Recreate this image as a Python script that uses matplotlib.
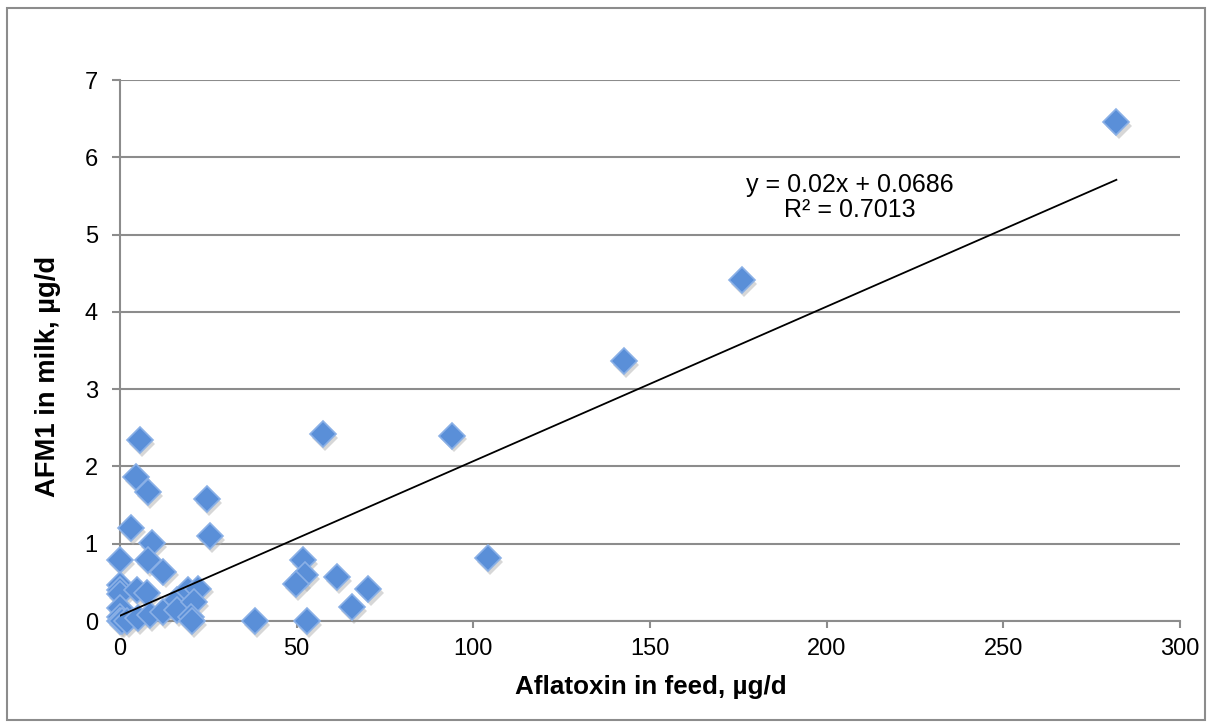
import matplotlib.pyplot as plt
import numpy as np
from matplotlib.patches import Rectangle

plt.rcParams['font.family'] = ['Liberation Sans', 'DejaVu Sans']

# data
feed = [0, 0, 0, 0, 0, 0, 0, 0.5, 1.9,
        3.1, 4.5, 5.7, 8.0, 9.0, 8.0, 12.3, 4.7, 7.5, 5.1, 8.5, 12.2,
        16.0, 16.0, 19.3, 22.2, 20.8, 20.0, 20.3, 24.5, 25.5, 38.2,
        51.7, 52.4, 49.8, 61.3, 70.3, 65.6, 53.0, 57.5,
        94.0, 104.2, 142.5, 176.0, 282.0]
milk = [0.79, 0.47, 0.40, 0.35, 0.17, 0.05, 0.0, 0.0, 0.0,
        1.20, 1.86, 2.34, 1.67, 1.01, 0.79, 0.64, 0.40, 0.36, 0.04, 0.08, 0.12,
        0.27, 0.14, 0.40, 0.42, 0.25, 0.05, 0.0, 1.58, 1.10, 0.0,
        0.79, 0.60, 0.48, 0.57, 0.41, 0.18, 0.0, 2.42,
        2.40, 0.81, 3.36, 4.41, 6.46]
slope, intercept, r2 = 0.02, 0.0686, 0.7013

x = np.array(feed)
y = np.array(milk)

fig = plt.figure(figsize=(12.1, 7.26), dpi=100)
ax = fig.add_axes([0.0992, 0.1446, 0.8760, 0.7452])

# outer frame
fig.patches.append(Rectangle((0.006, 0.008), 0.99, 0.981, transform=fig.transFigure,
                             fill=False, edgecolor='#8c8c8c', linewidth=1.5))

ax.set_xlim(0, 300)
ax.set_ylim(0, 7)
ax.set_xticks(range(0, 301, 50))
ax.set_yticks(range(0, 8))

ax.grid(axis='y', color='#8c8c8c', linewidth=1.5)
ax.set_axisbelow(True)
for s in ['top', 'right']:
    ax.spines[s].set_visible(False)
for s in ['left', 'bottom']:
    ax.spines[s].set_color('#8c8c8c')
    ax.spines[s].set_linewidth(1.5)
ax.tick_params(axis='both', colors='#8c8c8c', width=1.5, labelsize=17,
               labelcolor='black')
ax.tick_params(axis='x', length=5, pad=7)
ax.tick_params(axis='y', length=6, pad=10)

# shadow then markers
ax.plot(x + 0.6, y - 0.05, 'D', markersize=13, color='#b0b0b0', alpha=0.5,
        markeredgewidth=0, clip_on=False, zorder=2)
ax.plot(x, y, 'D', markersize=13, markerfacecolor='#5a8fd8',
        markeredgecolor='#8ab0e6', markeredgewidth=1.2, clip_on=False, zorder=3)

xt = np.array([x.min(), x.max()])
ax.plot(xt, slope * xt + intercept, color='black', linewidth=1.3, zorder=4)

ax.text(206.5, 5.48, 'y = %.2fx + %.4f\nR² = %.4f' % (slope, intercept, r2),
        ha='center', va='center', fontsize=18, linespacing=1.08)

ax.set_xlabel('Aflatoxin in feed, µg/d', fontsize=18.7, fontweight='bold')
ax.set_ylabel('AFM1 in milk, µg/d', fontsize=19.7, fontweight='bold')
ax.xaxis.set_label_coords(0.501, -0.099)
ax.yaxis.set_label_coords(-0.0557, 0.453)

fig.savefig('out.png', dpi=100)
